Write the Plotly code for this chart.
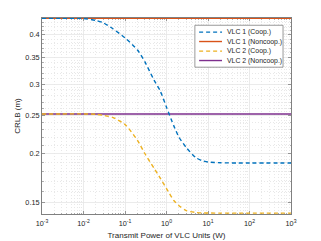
import math
import plotly.graph_objects as go

# ---- data ----
power_w = [0.001, 0.003, 0.01, 0.02, 0.03, 0.05, 0.1, 0.2, 0.3, 0.5, 0.7,
           1, 1.5, 2, 3, 5, 7, 10, 20, 50, 100, 1000]
vlc1_coop = [0.4405, 0.4405, 0.4400, 0.4350, 0.4290, 0.4150, 0.3930, 0.3660,
             0.3420, 0.3070, 0.2890, 0.2620, 0.2350, 0.2200, 0.2070, 0.1955,
             0.1920, 0.1903, 0.1895, 0.1892, 0.1892, 0.1892]
vlc2_coop = [0.2520, 0.2520, 0.2520, 0.2515, 0.2500, 0.2470, 0.2370, 0.2160,
             0.2000, 0.1835, 0.1735, 0.1630, 0.1520, 0.1475, 0.1433, 0.1418,
             0.1414, 0.1413, 0.1412, 0.1412, 0.1412, 0.1412]
vlc1_noncoop = 0.4405
vlc2_noncoop = 0.2520

series_names = ["VLC 1 (Coop.)", "VLC 1 (Noncoop.)", "VLC 2 (Coop.)", "VLC 2 (Noncoop.)"]
series_colors = ["#0072BD", "#D95319", "#EDB120", "#7E2F8E"]
series_dash = ["4px,3px", "solid", "4px,3px", "solid"]

x_tick_vals = [1e-3, 1e-2, 1e-1, 1, 10, 100, 1000]
x_tick_text = ["10<sup>-3</sup>", "10<sup>-2</sup>", "10<sup>-1</sup>", "10<sup>0</sup>",
               "10<sup>1</sup>", "10<sup>2</sup>", "10<sup>3</sup>"]
y_tick_vals = [0.15, 0.2, 0.25, 0.3, 0.35, 0.4]
y_tick_text = ["0.15", "0.2", "0.25", "0.3", "0.35", "0.4"]

x_minor = [k * 10.0 ** d for d in range(-3, 3) for k in range(2, 10)]
y_minor = [round(0.14 + 0.01 * i, 2) for i in range(0, 31)]
y_minor = [v for v in y_minor if all(abs(v - t) > 1e-9 for t in y_tick_vals)]

series_y = [vlc1_coop,
            [vlc1_noncoop] * len(power_w),
            vlc2_coop,
            [vlc2_noncoop] * len(power_w)]

fig = go.Figure()
order = [1, 3, 0, 2]
for i in order:
    fig.add_trace(go.Scatter(
        x=power_w, y=series_y[i], mode="lines", name=series_names[i],
        line=dict(color=series_colors[i], width=1.4, dash=series_dash[i],
                  shape="spline", smoothing=0.6),
        showlegend=False, hoverinfo="skip"))

axis_color = "#808080"
font_family = "Liberation Sans, Arial, sans-serif"

common = dict(showline=True, linecolor=axis_color, linewidth=1, mirror="allticks",
              ticks="inside", ticklen=3, tickcolor=axis_color, tickwidth=0.8,
              showgrid=True, gridcolor="#e6e6e6", gridwidth=0.8,
              zeroline=False, layer="below traces",
              tickfont=dict(size=7.3, color="#262626", family=font_family))
minor_common = dict(tickmode="array", ticks="inside", ticklen=1.5,
                    tickcolor=axis_color, tickwidth=0.6, showgrid=True,
                    gridcolor="#e8e8e8", griddash="1px,2px", gridwidth=1)

fig.update_xaxes(type="log", range=[-3, 3], tickmode="array",
                 tickvals=x_tick_vals, ticktext=x_tick_text,
                 ticklabelstandoff=2,
                 title=dict(text="Transmit Power of VLC Units (W)", standoff=5,
                            font=dict(size=8, color="#262626", family=font_family)),
                 minor=dict(tickvals=x_minor, **minor_common),
                 **common)
fig.update_yaxes(type="log", range=[math.log10(0.1405), math.log10(0.4412)],
                 tickmode="array", tickvals=y_tick_vals, ticktext=y_tick_text,
                 title=dict(text="CRLB (m)", standoff=3,
                            font=dict(size=8, color="#262626", family=font_family)),
                 minor=dict(tickvals=y_minor, **minor_common),
                 **common)

# ---- legend box drawn inside the axes (paper coordinates) ----
lx0, lx1, ly0, ly1 = 0.614, 0.968, 0.749, 0.963
shapes = [dict(type="rect", xref="paper", yref="paper", x0=lx0, x1=lx1, y0=ly0, y1=ly1,
               line=dict(color="#808080", width=0.8), fillcolor="white", layer="above")]
annotations = []
entry_y = [0.928, 0.880, 0.831, 0.783]
for i, name in enumerate(series_names):
    shapes.append(dict(type="line", xref="paper", yref="paper",
                       x0=0.631, x1=0.723, y0=entry_y[i], y1=entry_y[i],
                       line=dict(color=series_colors[i], width=1.4,
                                 dash=series_dash[i]), layer="above"))
    annotations.append(dict(xref="paper", yref="paper", x=0.733, y=entry_y[i],
                            text=name, showarrow=False, xanchor="left", yanchor="middle",
                            font=dict(size=6.9, color="#262626", family=font_family)))

fig.update_layout(width=321, height=241,
                  margin=dict(l=42, r=30, t=18, b=27, autoexpand=False),
                  paper_bgcolor="white", plot_bgcolor="white",
                  shapes=shapes, annotations=annotations, hovermode=False,
                  font=dict(family=font_family, color="#262626"))

fig.write_html("out.html", config={"displayModeBar": False, "staticPlot": True},
               post_script="document.body.style.margin='0';document.body.style.padding='0';")
